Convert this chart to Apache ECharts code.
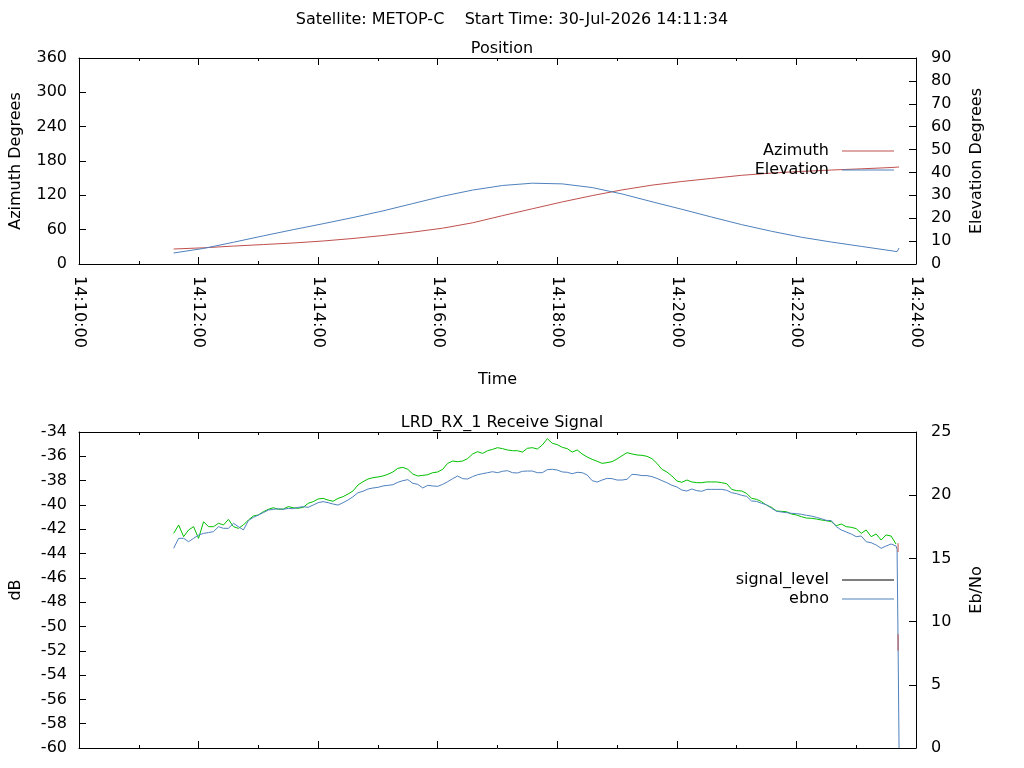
<!DOCTYPE html>
<html>
<head>
<meta charset="utf-8">
<script src="https://cdn.jsdelivr.net/npm/echarts@6/dist/echarts.min.js"></script>
<style>
html, body { margin: 0; padding: 0; background: #fff; }
#chart { width: 1024px; height: 768px; }
</style>
</head>
<body>
<div id="chart"></div>
<script>
// position samples (30 s apart)
var posTimes = ['14:11:35', '14:12:05', '14:12:35', '14:13:05', '14:13:35', '14:14:05', '14:14:35',
    '14:15:05', '14:15:35', '14:16:05', '14:16:35', '14:17:05', '14:17:35', '14:18:05', '14:18:35',
    '14:19:05', '14:19:35', '14:20:05', '14:20:35', '14:21:05', '14:21:35', '14:22:05', '14:22:35',
    '14:23:05', '14:23:35', '14:23:41', '14:23:43'];
var azimuth = [26.2, 28.3, 31.3, 34.0, 36.7, 40.2, 44.6, 49.8, 55.7, 62.6, 72.0, 84.5, 96.5, 108.5,
    119.5, 129.5, 137.8, 144.2, 149.6, 155.0, 158.9, 161.8, 164.2, 166.3, 168.6, 169.3, 169.5];
var elevation = [4.8, 6.8, 9.5, 12.3, 15.0, 17.6, 20.3, 23.2, 26.4, 29.6, 32.3, 34.3, 35.3, 35.0,
    33.4, 30.6, 27.2, 23.9, 20.5, 17.2, 14.3, 11.7, 9.6, 7.7, 5.8, 5.4, 7.0];

// receive signal, one sample every 5 s from sigStart
var sigStart = '14:11:35';
var sigStep = 5;
var signalLevel = [
    -42.34, -41.65, -42.61, -42.06, -41.79, -42.75, -41.38, -41.79, -41.79, -41.51,
    -41.65, -41.19, -41.79, -41.93, -41.65, -41.24, -40.91, -40.83, -40.56, -40.36,
    -40.23, -40.36, -40.34, -40.14, -40.23, -40.28, -40.20, -39.87, -39.73, -39.51,
    -39.46, -39.60, -39.70, -39.46, -39.32, -39.10, -38.85, -38.36, -38.09, -37.87,
    -37.76, -37.70, -37.62, -37.48, -37.29, -36.99, -36.91, -37.07, -37.46, -37.62,
    -37.57, -37.51, -37.35, -37.29, -37.07, -36.58, -36.39, -36.44, -36.39, -36.19,
    -35.81, -35.62, -35.76, -35.54, -35.43, -35.29, -35.37, -35.48, -35.54, -35.54,
    -35.65, -35.34, -35.29, -35.40, -35.07, -34.55, -34.93, -35.04, -35.26, -35.37,
    -35.65, -35.48, -35.81, -36.06, -36.25, -36.41, -36.58, -36.52, -36.44, -36.22,
    -35.95, -35.70, -35.81, -35.89, -35.92, -36.00, -36.19, -36.58, -37.07, -37.29,
    -37.62, -38.03, -38.14, -37.95, -38.11, -38.17, -38.17, -38.11, -38.11, -38.11,
    -38.17, -38.25, -38.72, -38.83, -38.85, -39.05, -39.46, -39.54, -39.73, -40.03,
    -40.20, -40.50, -40.53, -40.56, -40.75, -40.83, -40.97, -41.08, -41.10, -41.16,
    -41.24, -41.30, -41.38, -41.71, -41.57, -41.79, -41.84, -41.95, -42.34, -42.06,
    -42.61, -42.39, -42.89, -42.47, -42.56, -43.22];
var ebno = [
    15.80, 16.59, 16.59, 16.32, 16.59, 16.85, 16.98, 17.04, 17.12, 17.51,
    17.38, 17.38, 17.77, 17.51, 17.25, 17.99, 18.25, 18.43, 18.62, 18.83,
    18.88, 18.93, 18.88, 18.96, 18.93, 19.04, 19.09, 19.04, 19.22, 19.41,
    19.49, 19.41, 19.30, 19.22, 19.41, 19.62, 19.88, 20.20, 20.31, 20.49,
    20.57, 20.62, 20.73, 20.78, 20.83, 21.02, 21.15, 21.23, 20.94, 20.86,
    20.57, 20.78, 20.73, 20.70, 20.86, 21.07, 21.31, 21.52, 21.31, 21.28,
    21.47, 21.62, 21.70, 21.78, 21.86, 21.78, 21.89, 21.94, 21.78, 21.76,
    21.89, 21.91, 21.91, 21.78, 21.78, 22.02, 22.05, 21.99, 21.84, 21.81,
    21.70, 21.81, 21.78, 21.60, 21.15, 21.04, 21.20, 21.33, 21.31, 21.20,
    21.20, 21.26, 21.65, 21.62, 21.55, 21.55, 21.47, 21.33, 21.15, 20.99,
    20.78, 20.65, 20.41, 20.33, 20.49, 20.36, 20.31, 20.46, 20.46, 20.46,
    20.46, 20.39, 20.20, 20.12, 19.99, 19.91, 19.54, 19.51, 19.36, 19.25,
    18.97, 18.73, 18.67, 18.62, 18.57, 18.54, 18.49, 18.41, 18.35, 18.25,
    18.14, 18.01, 17.99, 17.51, 17.25, 17.09, 16.93, 16.72, 16.77, 16.32,
    16.24, 16.06, 15.80, 15.98, 16.14, 15.98];
// loss of signal at the end of the pass
var ebnoTailTimes = ['14:23:41', '14:23:42', '14:23:43'];
var ebnoTail = [15.7, 8.3, 0];
var markTime = '14:23:42';
var markValues = [16.2, 15.5, null, 9.0, 7.7];

var xStart = '14:10:00';
var xEnd = '14:24:00';

function toSec(s) {
    var p = s.split(':');
    return (+p[0]) * 3600 + (+p[1]) * 60 + (+p[2]);
}
function pad(n) { return (n < 10 ? '0' : '') + n; }
function fmtTime(v) {
    return pad(Math.floor(v / 3600)) + ':' + pad(Math.floor(v / 60) % 60) + ':' + pad(v % 60);
}

var azData = posTimes.map(function (t, i) { return [toSec(t), azimuth[i]]; });
var elData = posTimes.map(function (t, i) { return [toSec(t), elevation[i]]; });
var t0 = toSec(sigStart);
var sigData = signalLevel.map(function (v, i) { return [t0 + i * sigStep, v]; });
var ebnoData = ebno.map(function (v, i) { return [t0 + i * sigStep, v]; });
ebnoTailTimes.forEach(function (t, i) { ebnoData.push([toSec(t), ebnoTail[i]]); });
var markData = markValues.map(function (v) { return v === null ? '-' : [toSec(markTime), v]; });

var font = 'DejaVu Sans';
var fs = 16;
var txt = { color: '#000', fontFamily: font, fontSize: fs, fontWeight: 'normal' };
var line = { show: true, onZero: false, lineStyle: { color: '#000', width: 1 } };

function xAxis(grid, pos, labels, name) {
    return {
        type: 'value', gridIndex: grid, position: pos,
        min: toSec(xStart), max: toSec(xEnd), interval: 120,
        name: name || '', nameLocation: 'middle', nameGap: 108, nameTextStyle: txt,
        axisLine: line,
        axisTick: { show: true, inside: true, length: 7, lineStyle: { color: '#000' } },
        minorTick: { show: true, splitNumber: 2, length: 3, lineStyle: { color: '#000' } },
        axisLabel: {
            show: labels, rotate: -90, margin: 12, color: '#000', fontFamily: font, fontSize: fs,
            formatter: fmtTime
        },
        splitLine: { show: false }
    };
}
function yAxis(grid, pos, min, max, step, name, gap) {
    return {
        type: 'value', gridIndex: grid, position: pos, min: min, max: max, interval: step,
        name: name, nameLocation: 'middle', nameGap: gap, nameTextStyle: txt,
        axisLine: line,
        axisTick: { show: true, inside: true, length: 7, lineStyle: { color: '#000' } },
        axisLabel: { margin: pos === 'left' ? 12 : 15, color: '#000', fontFamily: font, fontSize: fs },
        splitLine: { show: false }
    };
}
function legend(top, data) {
    return {
        orient: 'vertical', align: 'right', right: 130, top: top, padding: 0,
        icon: 'rect', itemWidth: 52, itemHeight: 1, itemGap: 3, selectedMode: false,
        textStyle: { color: '#000', fontFamily: font, fontSize: fs, padding: [0, 8, 0, 0] },
        data: data
    };
}
function series(name, x, y, data, color) {
    return {
        name: name, type: 'line', xAxisIndex: x, yAxisIndex: y, data: data,
        symbol: 'none', connectNulls: false,
        lineStyle: { color: color, width: 1 }, itemStyle: { color: color }
    };
}

var chart = echarts.init(document.getElementById('chart'));
chart.setOption({
    animation: false,
    backgroundColor: '#fff',
    title: [
        { text: 'Satellite: METOP-C    Start Time: 30-Jul-2026 14:11:34', left: 'center', top: 7, textStyle: txt },
        { text: 'Position', left: 497, textAlign: 'center', top: 36, textStyle: txt },
        { text: 'LRD_RX_1 Receive Signal', left: 497, textAlign: 'center', top: 410, textStyle: txt }
    ],
    legend: [
        legend(143, ['Azimuth', 'Elevation']),
        legend(572, [{ name: 'signal_level', itemStyle: { color: '#000' } }, 'ebno'])
    ],
    grid: [
        { left: 79, right: 108, top: 58, height: 206, outerBoundsMode: 'none' },
        { left: 79, right: 108, top: 432, height: 316, outerBoundsMode: 'none' }
    ],
    xAxis: [
        xAxis(0, 'bottom', true, 'Time'),
        xAxis(0, 'top', false),
        xAxis(1, 'bottom', false),
        xAxis(1, 'top', false)
    ],
    yAxis: [
        yAxis(0, 'left', 0, 360, 60, 'Azimuth Degrees', 55),
        yAxis(0, 'right', 0, 90, 10, 'Elevation Degrees', 53),
        yAxis(1, 'left', -60, -34, 2, 'dB', 55),
        yAxis(1, 'right', 0, 25, 5, 'Eb/No', 53)
    ],
    series: [
        series('Azimuth', 0, 0, azData, '#c0504d'),
        series('Elevation', 0, 1, elData, '#4f81bd'),
        series('signal_level', 2, 2, sigData, '#00c000'),
        series('ebno', 2, 3, ebnoData, '#4f81bd'),
        series('marks', 2, 3, markData, '#c0504d')
    ]
});
</script>
</body>
</html>
